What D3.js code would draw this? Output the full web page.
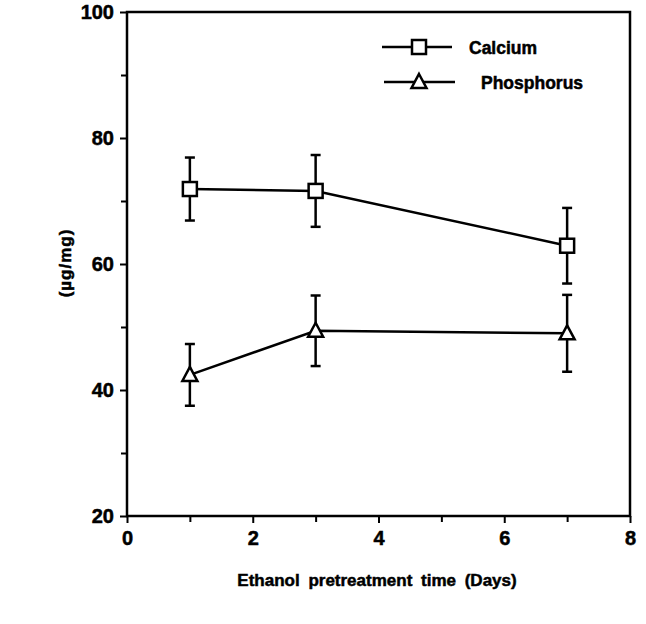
<!DOCTYPE html>
<html>
<head>
    <script src="https://cdnjs.cloudflare.com/ajax/libs/d3/7.8.5/d3.min.js"></script>
    <style>
        body{ margin:0; background:#fff; }
        svg{ font-family: 'Liberation Sans', Arial, sans-serif; font-weight: bold; }
        svg text{ stroke: #000; stroke-width: 0.5px; }
    </style>
</head>
<body>
    <svg id="chart" width="646" height="624"></svg>
    <script>
        // values
        var days = [1, 3, 7];
        var calcium = [71.9, 71.6, 62.9];
        var calciumErr = [5.0, 5.7, 6.0];
        var phosphorus = [42.4, 49.4, 49.0];
        var phosphorusErr = [4.9, 5.6, 6.1];
        var xTicks = [0, 2, 4, 6, 8];
        var yTicks = [20, 40, 60, 80, 100];

        var svg = d3.select("#chart");
        var xScale = d3.scaleLinear().domain([0, 8]).range([127, 630]);
        var yScale = d3.scaleLinear().domain([20, 100]).range([516, 12]);

        // frame
        svg.append("rect")
            .attr("x", 127).attr("y", 12)
            .attr("width", 503).attr("height", 504)
            .attr("fill", "none").attr("stroke", "#000").attr("stroke-width", 2.5);

        var xAxis = d3.axisBottom(xScale).tickValues(xTicks).tickSize(7).tickPadding(8);
        var xMinor = d3.axisBottom(xScale).tickValues([1, 3, 5, 7]).tickSize(6).tickFormat("");
        var yAxis = d3.axisLeft(yScale).tickValues(yTicks).tickSize(7).tickPadding(6);
        var yMinor = d3.axisLeft(yScale).tickValues([30, 50, 70, 90]).tickSize(6).tickFormat("");

        function styleAxis(g){
            g.select(".domain").remove();
            g.selectAll("line").attr("stroke", "#000").attr("stroke-width", 2);
            g.selectAll("text").attr("font-size", 20).attr("font-weight", "bold")
                .attr("font-family", "'Liberation Sans', Arial, sans-serif").attr("fill", "#000");
        }
        svg.append("g").attr("transform", "translate(0,516)").call(xAxis).call(styleAxis);
        svg.append("g").attr("transform", "translate(0,516)").call(xMinor).call(styleAxis);
        svg.append("g").attr("transform", "translate(127,0)").call(yAxis).call(styleAxis);
        svg.append("g").attr("transform", "translate(127,0)").call(yMinor).call(styleAxis);

        var series = [
            {name: "Calcium", vals: calcium, err: calciumErr, shape: "square"},
            {name: "Phosphorus", vals: phosphorus, err: phosphorusErr, shape: "triangle"}
        ];

        var line = d3.line().x(d => xScale(d.x)).y(d => yScale(d.y));

        function drawMarker(g, shape, cx, cy){
            if(shape == "square"){
                g.append("rect").attr("x", cx - 7).attr("y", cy - 7)
                    .attr("width", 14).attr("height", 14)
                    .attr("fill", "#fff").attr("stroke", "#000").attr("stroke-width", 2.5);
            } else {
                g.append("path")
                    .attr("d", "M" + cx + "," + (cy - 8) + "L" + (cx + 7.5) + "," + (cy + 6) + "L" + (cx - 7.5) + "," + (cy + 6) + "Z")
                    .attr("fill", "#fff").attr("stroke", "#000").attr("stroke-width", 2.5);
            }
        }

        series.forEach(function(s){
            var pts = days.map((d, i) => ({x: d, y: s.vals[i], e: s.err[i]}));
            var g = svg.append("g");
            // error bars
            pts.forEach(function(p){
                var cx = xScale(p.x);
                g.append("line").attr("x1", cx).attr("x2", cx)
                    .attr("y1", yScale(p.y + p.e)).attr("y2", yScale(p.y - p.e))
                    .attr("stroke", "#000").attr("stroke-width", 2.5);
                [p.y + p.e, p.y - p.e].forEach(function(v){
                    g.append("line").attr("x1", cx - 5).attr("x2", cx + 5)
                        .attr("y1", yScale(v)).attr("y2", yScale(v))
                        .attr("stroke", "#000").attr("stroke-width", 2.5);
                });
            });
            g.append("path").attr("d", line(pts))
                .attr("fill", "none").attr("stroke", "#000").attr("stroke-width", 2.5);
            pts.forEach(p => drawMarker(g, s.shape, xScale(p.x), yScale(p.y)));
        });

        // legend
        var legend = [
            {name: "Calcium", shape: "square", x1: 382, x2: 452, y: 47, tx: 469},
            {name: "Phosphorus", shape: "triangle", x1: 384, x2: 455, y: 82, tx: 481}
        ];
        legend.forEach(function(l){
            var g = svg.append("g");
            g.append("line").attr("x1", l.x1).attr("x2", l.x2).attr("y1", l.y).attr("y2", l.y)
                .attr("stroke", "#000").attr("stroke-width", 2.5);
            drawMarker(g, l.shape, 419, l.y);
            g.append("text").attr("x", l.tx).attr("y", l.y + 7)
                .attr("font-size", 17.5).text(l.name);
        });

        // axis titles
        svg.append("text").attr("x", 377).attr("y", 586).attr("text-anchor", "middle")
            .attr("font-size", 17).attr("word-spacing", 4).text("Ethanol  pretreatment  time  (Days)");
        svg.append("text").attr("transform", "translate(71,263) rotate(-90)")
            .attr("text-anchor", "middle").attr("font-size", 17).attr("letter-spacing", 1).text("(\u00b5g/mg)");
    </script>
</body>
</html>
